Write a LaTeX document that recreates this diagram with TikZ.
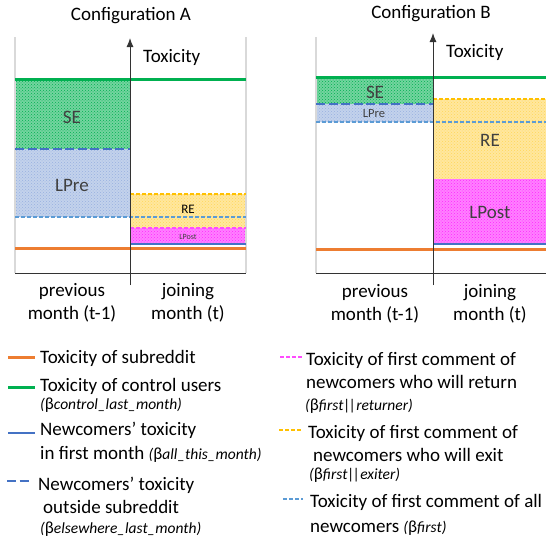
\documentclass[tikz,border=0pt]{standalone}
\usepackage{fontspec}
\setmainfont{Carlito}
\usetikzlibrary{patterns,arrows.meta}
\definecolor{cgreen}{HTML}{00B050}
\definecolor{corange}{HTML}{ED7D31}
\definecolor{cblue}{HTML}{4472C4}
\definecolor{clblue}{HTML}{5B9BD5}
\definecolor{cyellow}{HTML}{FFC000}
\definecolor{cpink}{HTML}{FF00FF}
\definecolor{cgrid}{HTML}{D9D9D9}
\definecolor{ctext}{HTML}{404040}
\tikzset{
  big/.style={font=\fontsize{19}{20}\selectfont},
  lbl/.style={inner sep=0pt, text=black, big},
  reglbl/.style={inner sep=0pt, text=ctext},
  segreen/.style={fill=cgreen!55!white, postaction={pattern=crosshatch dots, pattern color=cgreen}},
  lprefill/.style={fill=cblue!32!white, postaction={pattern=crosshatch dots, pattern color=cblue!55!white}},
  refill/.style={fill=cyellow!38!white, postaction={pattern=crosshatch dots, pattern color=cyellow!65!white}},
  lpostfill/.style={fill=cpink!50!white, postaction={pattern=crosshatch dots, pattern color=cpink!85!white}},
  greenline/.style={draw=cgreen, line width=3pt},
  orangeline/.style={draw=corange, line width=3pt},
  blueline/.style={draw=cblue, line width=2.5pt},
  bluedash/.style={draw=cblue, line width=2.8pt, dash pattern=on 9pt off 3.5pt},
  lbluedash/.style={draw=clblue, line width=1.2pt, dash pattern=on 4pt off 2pt},
  yellowdash/.style={draw=cyellow, line width=1.2pt, dash pattern=on 4pt off 2pt},
  pinkdash/.style={draw=cpink!70!white, line width=1.2pt, dash pattern=on 4pt off 2pt},
  border/.style={draw=cgrid, line width=1.5pt},
  axis/.style={draw=black!80, line width=1pt},
}
\newcommand{\subf}{\fontsize{15.5}{16}\itshape\selectfont}
\newcommand{\bet}[1]{{\subf (}{\fontsize{17}{18}\selectfont β}{\subf #1)}}
\newcommand{\bars}{|\kern-1.5pt|}
\begin{document}
\begin{tikzpicture}[x=1pt,y=-1pt]
\useasboundingbox (0,0) rectangle (546,539);
\fill[white] (0,0) rectangle (546,539);

% ================= Configuration A =================
\node[lbl, anchor=base] (titleA) at (131,20) {Configuration A};
% regions
\path[segreen] (15,79) rectangle (130,149);
\path[lprefill] (15,149) rectangle (130,217);
\path[refill] (130,194) rectangle (246,228);
\path[lpostfill] (130,228) rectangle (246,244);
% borders
\coordinate (aTL) at (15,37); \coordinate (aBL) at (15,273);
\coordinate (aTR) at (246,37); \coordinate (aBR) at (246,273);
\draw[border] (aTL) -- (aBL);
\draw[border] (aTR) -- (aBR);
% lines
\coordinate (aG1) at (15,79); \coordinate (aG2) at (246,79);
\draw[greenline] (aG1) -- (aG2);
\coordinate (aD1) at (15,149); \coordinate (aD2) at (130,149);
\draw[bluedash] (aD1) -- (aD2);
\coordinate (aL1) at (15,217); \coordinate (aL2) at (246,217);
\draw[lbluedash] (aL1) -- (aL2);
\coordinate (aY1) at (130,194); \coordinate (aY2) at (246,194);
\draw[yellowdash] (aY1) -- (aY2);
\coordinate (aP1) at (130,228); \coordinate (aP2) at (246,228);
\draw[pinkdash] (aP1) -- (aP2);
\coordinate (aB1) at (130,244); \coordinate (aB2) at (246,244);
\draw[blueline] (aB1) -- (aB2);
\coordinate (aO1) at (15,248); \coordinate (aO2) at (246,248);
\draw[orangeline] (aO1) -- (aO2);
% axes
\draw[axis] (aBL) -- (aBR);
\coordinate (aAx0) at (130,285); \coordinate (aAx1) at (130,38);
\draw[axis, -{Latex[length=9pt,width=7pt]}] (aAx0) -- (aAx1);
\node[lbl, anchor=base west] (toxA) at (143,62) {Toxicity};
% region labels
\node[reglbl, font=\fontsize{19}{20}\selectfont] (seA) at (72,117) {SE};
\node[reglbl, font=\fontsize{19}{20}\selectfont] (lpreA) at (72,185) {LPre};
\node[reglbl, text=black, font=\fontsize{13}{14}\selectfont] (reA) at (188,209) {RE};
\node[reglbl, font=\fontsize{8}{9}\selectfont] (lpostA) at (188,237) {LPost};
% time labels
\node[lbl, anchor=base] (prevA1) at (72,296) {previous};
\node[lbl, anchor=base] (prevA2) at (72,319) {month (t-1)};
\node[lbl, anchor=base] (joinA1) at (188,296) {joining};
\node[lbl, anchor=base] (joinA2) at (188,319) {month (t)};

% ================= Configuration B =================
\node[lbl, anchor=base] (titleB) at (431,18) {Configuration B};
\path[segreen] (316,77) rectangle (433,104);
\path[lprefill] (316,104) rectangle (433,122);
\path[refill] (433,99) rectangle (546,179);
\path[lpostfill] (433,179) rectangle (546,244);
\coordinate (bTL) at (316,37); \coordinate (bBL) at (316,273);
\coordinate (bBR) at (546,273);
\draw[border] (bTL) -- (bBL);
\coordinate (bG1) at (316,77); \coordinate (bG2) at (546,77);
\draw[greenline] (bG1) -- (bG2);
\coordinate (bD1) at (316,104); \coordinate (bD2) at (433,104);
\draw[bluedash] (bD1) -- (bD2);
\coordinate (bL1) at (316,122); \coordinate (bL2) at (546,122);
\draw[lbluedash] (bL1) -- (bL2);
\coordinate (bY1) at (433,99); \coordinate (bY2) at (546,99);
\draw[yellowdash] (bY1) -- (bY2);
\coordinate (bB1) at (433,244); \coordinate (bB2) at (546,244);
\draw[blueline] (bB1) -- (bB2);
\coordinate (bO1) at (316,249); \coordinate (bO2) at (546,249);
\draw[orangeline] (bO1) -- (bO2);
\draw[axis] (bBL) -- (bBR);
\coordinate (bAx0) at (433,285); \coordinate (bAx1) at (433,33);
\draw[axis, -{Latex[length=9pt,width=7pt]}] (bAx0) -- (bAx1);
\node[lbl, anchor=base west] (toxB) at (446,57) {Toxicity};
\node[reglbl, font=\fontsize{19}{20}\selectfont] (seB) at (375,92) {SE};
\node[reglbl, font=\fontsize{12.5}{14}\selectfont] (lpreB) at (374,114) {LPre};
\node[reglbl, font=\fontsize{19}{20}\selectfont] (reB) at (490,140) {RE};
\node[reglbl, font=\fontsize{19}{20}\selectfont] (lpostB) at (490,212) {LPost};
\node[lbl, anchor=base] (prevB1) at (375,297) {previous};
\node[lbl, anchor=base] (prevB2) at (375,320) {month (t-1)};
\node[lbl, anchor=base] (joinB1) at (490,297) {joining};
\node[lbl, anchor=base] (joinB2) at (490,320) {month (t)};

% ================= Legend left =================
\coordinate (k1a) at (8,357); \coordinate (k1b) at (35,357);
\draw[orangeline] (k1a) -- (k1b);
\node[lbl, anchor=base west] (t1) at (40,363) {Toxicity of subreddit};
\coordinate (k2a) at (8,387); \coordinate (k2b) at (35,387);
\draw[greenline] (k2a) -- (k2b);
\node[lbl, anchor=base west] (t2) at (40,391) {Toxicity of control users};
\node[lbl, anchor=base west] (t2b) at (40,409) {\bet{control\_last\_month}};
\coordinate (k3a) at (8,433); \coordinate (k3b) at (35,433);
\draw[blueline] (k3a) -- (k3b);
\node[lbl, anchor=base west] (t3) at (40,435) {Newcomers’ toxicity};
\node[lbl, anchor=base west] (t3b) at (40,459) {in first month \bet{all\_this\_month}};
\coordinate (k4a) at (7,481); \coordinate (k4b) at (32,481);
\draw[bluedash] (k4a) -- (k4b);
\node[lbl, anchor=base west] (t4) at (38,490) {Newcomers’ toxicity};
\node[lbl, anchor=base west] (t4b) at (43,513) {outside subreddit};
\node[lbl, anchor=base west] (t4c) at (40,533) {\bet{elsewhere\_last\_month}};

% ================= Legend right =================
\coordinate (k5a) at (280,357); \coordinate (k5b) at (302,357);
\draw[pinkdash] (k5a) -- (k5b);
\node[lbl, anchor=base west] (t5) at (306,365) {Toxicity of first comment of};
\node[lbl, anchor=base west] (t5b) at (306,388) {newcomers who will return};
\node[lbl, anchor=base west] (t5c) at (305,410) {\bet{first\bars returner}};
\coordinate (k6a) at (279,430); \coordinate (k6b) at (302,430);
\draw[yellowdash] (k6a) -- (k6b);
\node[lbl, anchor=base west] (t6) at (308,438) {Toxicity of first comment of};
\node[lbl, anchor=base west] (t6b) at (313,461) {newcomers who will exit};
\node[lbl, anchor=base west] (t6c) at (309,479) {\bet{first\bars exiter}};
\coordinate (k7a) at (283,499); \coordinate (k7b) at (303,499);
\draw[lbluedash] (k7a) -- (k7b);
\node[lbl, anchor=base west] (t7) at (310,507) {Toxicity of first comment of all};
\node[lbl, anchor=base west] (t7b) at (310,532) {newcomers \bet{first}};
\end{tikzpicture}
\end{document}
